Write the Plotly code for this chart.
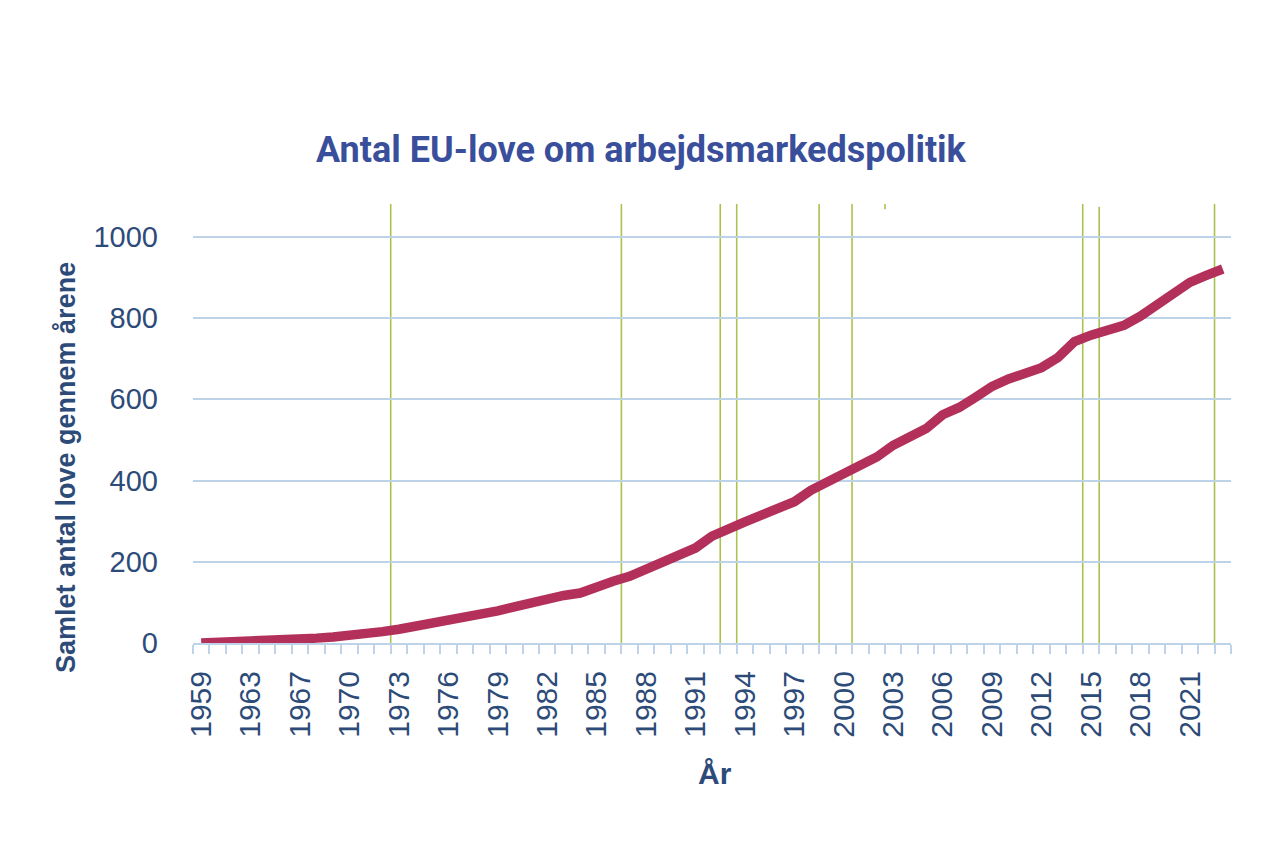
import plotly.graph_objects as go

# Categories (years on the x axis; a few early years are absent in the source)
years = ["1959", "1961", "1962", "1963", "1965", "1966", "1967", "1968", "1969", "1970",
         "1971", "1972", "1973", "1974", "1975", "1976", "1977", "1978", "1979", "1980",
         "1981", "1982", "1983", "1984", "1985", "1986", "1987", "1988", "1989", "1990",
         "1991", "1992", "1993", "1994", "1995", "1996", "1997", "1998", "1999", "2000",
         "2001", "2002", "2003", "2004", "2005", "2006", "2007", "2008", "2009", "2010",
         "2011", "2012", "2013", "2014", "2015", "2016", "2017", "2018", "2019", "2020",
         "2021", "2022", "2023"]

# Cumulative number of EU labour-market laws
laws_total = [0, 1, 3, 5, 7, 8, 9, 12, 15, 18,
              20, 28, 34, 41, 47, 57, 65, 72, 79, 89,
              100, 108, 117, 123, 140, 152, 164, 182, 203, 215,
              234, 263, 278, 298, 315, 332, 348, 376, 397, 415,
              433, 458, 487, 510, 528, 562, 580, 605, 632, 650,
              666, 678, 703, 742, 758, 768, 782, 805, 832, 862,
              888, 905, 921]

# Labelled years on the x axis
labelled_years = ["1959", "1963", "1967", "1970", "1973", "1976", "1979", "1982", "1985",
                  "1988", "1991", "1994", "1997", "2000", "2003", "2006", "2009", "2012",
                  "2015", "2018", "2021"]

# Event markers (vertical lines at the start of these years) and their extent
event_years = ["1973", "1987", "1993", "1994", "1999", "2001", "2003", "2015", "2016", "2023"]
event_tops = [1081, 1081, 1081, 1081, 1081, 1081, 1081, 1081, 1074, 1081]
event_bottoms = [0, 0, 0, 0, 0, 0, 1068, 0, 0, 0]

y_ticks = [0, 200, 400, 600, 800, 1000]

TXT = "#2D4B78"
GRID = "#BFD3E8"
GREEN = "#A8C34C"

# plot area in page pixels (page has an 8px body offset)
L, R, T, B = 193, 1231, 204, 643
OFF = 8
PW, PH = R - L, B - T

fig = go.Figure()

fig.add_trace(go.Scatter(
    x=years, y=laws_total, mode="lines",
    line=dict(color="#B3305A", width=9.5, shape="linear"),
    hoverinfo="x+y", showlegend=False,
))

for yr, top, bot in zip(event_years, event_tops, event_bottoms):
    pos = years.index(yr) - 0.5
    fig.add_shape(type="line", xref="x", yref="y", x0=pos, x1=pos, y0=bot, y1=top,
                  line=dict(color=GREEN, width=1.6), layer="below")

fig.update_layout(
    width=1280, height=852,
    paper_bgcolor="white", plot_bgcolor="white",
    margin=dict(l=L - OFF, r=1280 - (R - OFF), t=T - OFF, b=852 - (B - OFF)),
    showlegend=False,
    font=dict(family="Liberation Sans, Arial, sans-serif", color=TXT),
    annotations=[
        dict(text="<b>Antal EU-love om arbejdsmarkedspolitik</b>", xref="paper", yref="paper",
             x=(641 - L) / PW, y=(B - 150) / PH,
             xanchor="center", yanchor="middle", showarrow=False,
             font=dict(family="Roboto, sans-serif", size=36, color="#3A4F9C")),
        dict(text="<b>Samlet antal love gennem årene</b>", xref="paper", yref="paper",
             x=(66 - L) / PW, y=(B - 468) / PH, textangle=-90,
             xanchor="center", yanchor="middle", showarrow=False,
             font=dict(family="Liberation Sans Narrow, Arial Narrow, Liberation Sans, sans-serif",
                       size=27, color=TXT)),
        dict(text="<b>År</b>", xref="paper", yref="paper",
             x=(715 - L) / PW, y=(B - 773) / PH,
             xanchor="center", yanchor="middle", showarrow=False,
             font=dict(family="Liberation Sans, Arial, sans-serif", size=30, color=TXT)),
    ],
)

fig.update_xaxes(
    type="category", categoryorder="array", categoryarray=years,
    range=[-0.5, len(years) - 0.5],
    tickmode="array", tickvals=years,
    ticktext=[y if y in labelled_years else "" for y in years],
    tickson="boundaries", ticks="outside", ticklen=9, tickwidth=2, tickcolor=GRID,
    tickangle=-90, tickfont=dict(size=30, color=TXT), ticklabelstandoff=14,
    showline=True, linecolor=GRID, linewidth=2,
    showgrid=False, zeroline=False, fixedrange=True,
)

fig.update_yaxes(
    range=[0, 1081], tickvals=y_ticks,
    showgrid=True, gridcolor=GRID, gridwidth=2,
    zeroline=False, showline=False, ticks="",
    tickfont=dict(size=29, color=TXT), ticklabelstandoff=34,
    fixedrange=True,
)

fig.write_html("out.html")
